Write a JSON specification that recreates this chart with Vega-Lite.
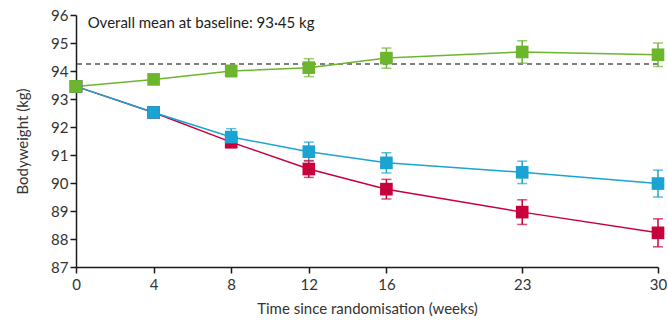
{
  "$schema": "https://vega.github.io/schema/vega-lite/v6.json",
  "autosize": {"type": "none"},
  "width": 582,
  "height": 252,
  "padding": {"left": 76, "top": 15, "right": 10, "bottom": 56},
  "background": "white",
  "config": {
    "view": {"stroke": null},
    "font": "Lato",
    "axis": {"grid": false, "domainColor": "#1a1a1a", "tickColor": "#1a1a1a", "labelColor": "#333", "titleColor": "#333", "labelFont": "Lato", "titleFont": "Lato", "labelFontSize": 15, "titleFontSize": 15, "titleFontWeight": "normal", "domainWidth": 1.5, "tickWidth": 1.5, "tickSize": 6},
    "axisY": {"labelOverlap": false, "labelSeparation": 0, "labelBound": false},
    "axisQuantitative": {"labelOverlap": false}
  },
  "datasets": {
    "weights": [
      {"group": "C", "week": 0, "mean": 93.45, "lo": 93.45, "hi": 93.45},
      {"group": "C", "week": 4, "mean": 92.52, "lo": 92.45, "hi": 92.59},
      {"group": "C", "week": 8, "mean": 91.46, "lo": 91.26, "hi": 91.66},
      {"group": "C", "week": 12, "mean": 90.5, "lo": 90.2, "hi": 90.8},
      {"group": "C", "week": 16, "mean": 89.78, "lo": 89.43, "hi": 90.13},
      {"group": "C", "week": 23, "mean": 88.96, "lo": 88.52, "hi": 89.4},
      {"group": "C", "week": 30, "mean": 88.22, "lo": 87.72, "hi": 88.72},
      {"group": "B", "week": 0, "mean": 93.45, "lo": 93.45, "hi": 93.45},
      {"group": "B", "week": 4, "mean": 92.52, "lo": 92.45, "hi": 92.59},
      {"group": "B", "week": 8, "mean": 91.64, "lo": 91.34, "hi": 91.94},
      {"group": "B", "week": 12, "mean": 91.12, "lo": 90.78, "hi": 91.46},
      {"group": "B", "week": 16, "mean": 90.72, "lo": 90.36, "hi": 91.08},
      {"group": "B", "week": 23, "mean": 90.38, "lo": 89.98, "hi": 90.78},
      {"group": "B", "week": 30, "mean": 89.98, "lo": 89.5, "hi": 90.46},
      {"group": "A", "week": 0, "mean": 93.45, "lo": 93.45, "hi": 93.45},
      {"group": "A", "week": 4, "mean": 93.7, "lo": 93.63, "hi": 93.77},
      {"group": "A", "week": 8, "mean": 94.0, "lo": 93.8, "hi": 94.2},
      {"group": "A", "week": 12, "mean": 94.12, "lo": 93.8, "hi": 94.44},
      {"group": "A", "week": 16, "mean": 94.46, "lo": 94.1, "hi": 94.82},
      {"group": "A", "week": 23, "mean": 94.68, "lo": 94.28, "hi": 95.08},
      {"group": "A", "week": 30, "mean": 94.58, "lo": 94.16, "hi": 95.0}
    ],
    "ref": [{"y": 94.25, "label": "Overall mean at baseline: 93·45 kg"}]
  },
  "layer": [
    {
      "data": {"name": "weights"},
      "mark": {"type": "point", "opacity": 0},
      "encoding": {
        "x": {"field": "week", "type": "quantitative", "scale": {"domain": [0, 30], "nice": false}, "axis": {"values": [0, 4, 8, 12, 16, 23, 30], "title": "Time since randomisation (weeks)", "titlePadding": 9, "labelPadding": 4, "labelFlush": false}},
        "y": {"field": "mean", "type": "quantitative", "scale": {"domain": [87, 96], "nice": false, "zero": false}, "axis": {"values": [87, 88, 89, 90, 91, 92, 93, 94, 95, 96], "tickCount": 10, "title": "Bodyweight (kg)", "titlePadding": 20, "labelOverlap": false, "labelFlush": false}}
      }
    },
    {
      "data": {"name": "ref"},
      "mark": {"type": "rule", "strokeDash": [5, 4], "color": "#555", "strokeWidth": 1.5},
      "encoding": {"y": {"field": "y", "type": "quantitative"}}
    },
    {
      "data": {"name": "ref"},
      "mark": {"type": "text", "align": "left", "baseline": "middle", "fontSize": 15, "color": "#222", "font": "Lato"},
      "encoding": {
        "x": {"datum": 0.6, "type": "quantitative"},
        "y": {"datum": 95.7, "type": "quantitative"},
        "text": {"field": "label"}
      }
    },
    {
      "data": {"name": "weights"},
      "mark": {"type": "line", "strokeWidth": 1.5},
      "encoding": {
        "x": {"field": "week", "type": "quantitative"},
        "y": {"field": "mean", "type": "quantitative"},
        "color": {"field": "group", "type": "nominal", "scale": {"domain": ["C", "B", "A"], "range": ["#c8003c", "#1ba3d3", "#6cb52d"]}, "legend": null}
      }
    },
    {
      "data": {"name": "weights"},
      "mark": {"type": "rule", "strokeWidth": 1.5},
      "encoding": {
        "x": {"field": "week", "type": "quantitative"},
        "y": {"field": "lo", "type": "quantitative"},
        "y2": {"field": "hi"},
        "color": {"field": "group", "type": "nominal", "legend": null}
      }
    },
    {
      "data": {"name": "weights"},
      "mark": {"type": "tick", "orient": "horizontal", "size": 10, "thickness": 1.5},
      "encoding": {
        "x": {"field": "week", "type": "quantitative"},
        "y": {"field": "lo", "type": "quantitative"},
        "color": {"field": "group", "type": "nominal", "legend": null}
      }
    },
    {
      "data": {"name": "weights"},
      "mark": {"type": "tick", "orient": "horizontal", "size": 10, "thickness": 1.5},
      "encoding": {
        "x": {"field": "week", "type": "quantitative"},
        "y": {"field": "hi", "type": "quantitative"},
        "color": {"field": "group", "type": "nominal", "legend": null}
      }
    },
    {
      "data": {"name": "weights"},
      "mark": {"type": "square", "size": 160, "filled": true, "opacity": 1},
      "encoding": {
        "x": {"field": "week", "type": "quantitative"},
        "y": {"field": "mean", "type": "quantitative"},
        "color": {"field": "group", "type": "nominal", "legend": null}
      }
    }
  ]
}
